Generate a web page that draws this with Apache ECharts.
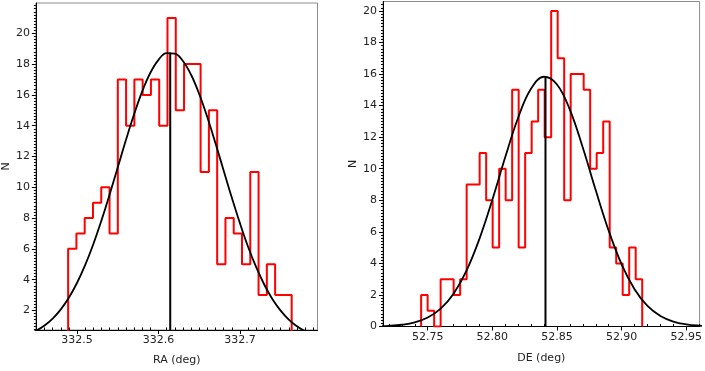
<!DOCTYPE html>
<html>
<head>
<meta charset="utf-8">
<script src="https://cdn.jsdelivr.net/npm/echarts@6/dist/echarts.min.js"></script>
<style>
html,body{margin:0;padding:0;background:#fff;}
#chart{width:705px;height:371px;}
</style>
</head>
<body>
<div id="chart"></div>
<script>
// ---- RA histogram (left) ----
const raBinStart = 332.489;
const raBinWidth = 0.01017;
const raCounts = [6,7,8,9,10,7,17,14,17,16,17,14,21,15,18,18,11,15,5,8,7,5,11,3,5,3,3];
const raFitX = [332.44,332.45,332.46,332.47,332.48,332.49,332.50,332.51,332.52,332.53,332.54,332.55,332.56,332.57,332.58,332.59,332.60,332.61,332.62,332.63,332.64,332.65,332.66,332.67,332.68,332.69,332.70,332.71,332.72,332.73,332.74,332.75,332.76,332.77,332.78,332.79];
const raFitY = [0.46,0.69,1.02,1.47,2.07,2.84,3.80,4.96,6.32,7.86,9.54,11.30,13.07,14.74,16.23,17.44,18.28,18.71,18.68,18.20,17.31,16.06,14.55,12.86,11.09,9.33,7.67,6.14,4.81,3.67,2.73,1.99,1.41,0.98,0.66,0.43];
const raPeak = [332.6144, 18.75];
const raXTicks = [332.5, 332.6, 332.7];
const raYTicks = [2,4,6,8,10,12,14,16,18,20];

// ---- DE histogram (right) ----
const deBinStart = 52.7449;
const deBinWidth = 0.00503;
const deCounts = [2,1,0,3,3,2,3,9,9,11,8,5,10,8,15,5,11,13,15,12,20,17,8,16,16,15,10,11,13,5,4,2,5,3];
const deFitX = [52.71,52.72,52.73,52.74,52.75,52.76,52.77,52.78,52.79,52.80,52.81,52.82,52.83,52.84,52.85,52.86,52.87,52.88,52.89,52.90,52.91,52.92,52.93,52.94,52.95,52.96,52.97];
const deFitY = [0.016,0.044,0.112,0.262,0.567,1.131,2.083,3.542,5.555,8.04,10.74,13.25,15.08,15.83,15.34,13.73,11.33,8.63,6.07,3.94,2.36,1.30,0.665,0.313,0.136,0.054,0.020];
const dePeak = [52.8411, 15.84];
const deXTicks = [52.75, 52.80, 52.85, 52.90, 52.95];
const deYTicks = [0,2,4,6,8,10,12,14,16,18,20];

const raRange = {xmin: 332.4494, xmax: 332.7953, ymin: 0.73, ymax: 21.97};
const deRange = {xmin: 52.7154, xmax: 52.9603, ymin: 0, ymax: 20.6};

function stepData(start, width, counts) {
  const pts = [[start, 0]];
  counts.forEach((c, i) => pts.push([start + i * width, c]));
  const end = start + counts.length * width;
  pts.push([end, counts[counts.length - 1]]);
  pts.push([end, 0]);
  return pts;
}
function minorList(a, b, step, majors) {
  const out = [];
  const n = Math.round((b - a) / step);
  for (let i = 0; i <= n; i++) {
    const v = +(a + i * step).toFixed(6);
    if (!majors.some(m => Math.abs(m - v) < step / 10)) out.push(v);
  }
  return out;
}
const FONT = 'DejaVu Sans';
const labelStyle = {color: '#222', fontFamily: FONT, fontSize: 11};

function mainX(grid, r, ticks, dec, name, gap) {
  return {
    type: 'value', gridIndex: grid, min: r.xmin, max: r.xmax,
    name: name, nameLocation: 'middle', nameGap: gap,
    nameTextStyle: {color: '#222', fontFamily: FONT, fontSize: 11},
    axisLine: {show: true, onZero: false, lineStyle: {color: '#000', width: 1}},
    axisTick: {show: true, customValues: ticks, length: 4, inside: false, lineStyle: {color: '#000'}},
    axisLabel: Object.assign({customValues: ticks, margin: 5, formatter: v => v.toFixed(dec)}, labelStyle),
    splitLine: {show: false}
  };
}
function minorX(grid, r, vals) {
  return {
    type: 'value', gridIndex: grid, min: r.xmin, max: r.xmax, position: 'bottom',
    axisLine: {show: false}, axisLabel: {show: false}, splitLine: {show: false},
    axisTick: {show: true, customValues: vals, length: 2.5, inside: true, lineStyle: {color: '#000'}}
  };
}
function mainY(grid, r, ticks, gap) {
  return {
    type: 'value', gridIndex: grid, min: r.ymin, max: r.ymax,
    name: 'N', nameLocation: 'middle', nameGap: gap,
    nameTextStyle: {color: '#222', fontFamily: FONT, fontSize: 11},
    axisLine: {show: true, onZero: false, lineStyle: {color: '#000', width: 1}},
    axisTick: {show: true, customValues: ticks, length: 4, lineStyle: {color: '#000'}},
    axisLabel: Object.assign({customValues: ticks, margin: 6}, labelStyle),
    splitLine: {show: false}
  };
}
function minorY(grid, r, vals) {
  return {
    type: 'value', gridIndex: grid, min: r.ymin, max: r.ymax, position: 'left',
    axisLine: {show: false}, axisLabel: {show: false}, splitLine: {show: false},
    axisTick: {show: true, customValues: vals, length: 2, lineStyle: {color: '#000'}}
  };
}

const chart = echarts.init(document.getElementById('chart'), null, {renderer: 'canvas'});
chart.setOption({
  backgroundColor: '#fff',
  animation: false,
  grid: [
    {left: 34.5, top: 3, width: 283, height: 330, show: true, borderColor: '#8a8a8a', borderWidth: 1, backgroundColor: '#fff'},
    {left: 383, top: 1.5, width: 319, height: 325, show: true, borderColor: '#8a8a8a', borderWidth: 1, backgroundColor: '#fff'}
  ],
  xAxis: [
    mainX(0, raRange, raXTicks, 1, 'RA (deg)', 25),
    minorX(0, raRange, minorList(332.45, 332.79, 0.01, raXTicks)),
    mainX(1, deRange, deXTicks, 2, 'DE (deg)', 26),
    minorX(1, deRange, minorList(52.72, 52.96, 0.01, deXTicks))
  ],
  yAxis: [
    mainY(0, raRange, raYTicks, 22),
    minorY(0, raRange, minorList(0.8, 21.8, 0.2, raYTicks)),
    mainY(1, deRange, deYTicks, 24),
    minorY(1, deRange, minorList(0.2, 20.4, 0.2, deYTicks))
  ],
  series: [
    {type: 'line', xAxisIndex: 0, yAxisIndex: 0, step: 'end', symbol: 'none', clip: true,
     data: stepData(raBinStart, raBinWidth, raCounts), lineStyle: {color: '#ff0000', width: 2}},
    {type: 'line', xAxisIndex: 0, yAxisIndex: 0, smooth: 0.4, symbol: 'none', clip: true,
     data: raFitX.map((x, i) => [x, raFitY[i]]), lineStyle: {color: '#000', width: 1.8}},
    {type: 'line', xAxisIndex: 0, yAxisIndex: 0, symbol: 'none', clip: true,
     data: [[raPeak[0], raRange.ymin], [raPeak[0], raPeak[1]]], lineStyle: {color: '#000', width: 2}},
    {type: 'line', xAxisIndex: 2, yAxisIndex: 2, step: 'end', symbol: 'none', clip: true,
     data: stepData(deBinStart, deBinWidth, deCounts), lineStyle: {color: '#ff0000', width: 2}},
    {type: 'line', xAxisIndex: 2, yAxisIndex: 2, smooth: 0.4, symbol: 'none', clip: true,
     data: deFitX.map((x, i) => [x, deFitY[i]]), lineStyle: {color: '#000', width: 1.8}},
    {type: 'line', xAxisIndex: 2, yAxisIndex: 2, symbol: 'none', clip: true,
     data: [[dePeak[0], deRange.ymin], [dePeak[0], dePeak[1]]], lineStyle: {color: '#000', width: 2}}
  ]
});
</script>
</body>
</html>
